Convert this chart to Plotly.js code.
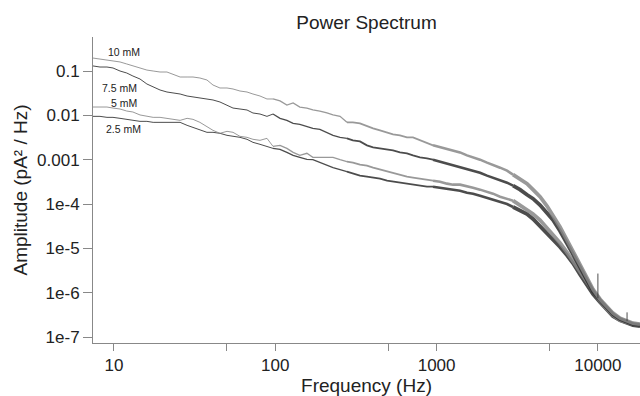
<!DOCTYPE html>
<html>
<head>
<meta charset="utf-8">
<script src="https://cdn.plot.ly/plotly-3.0.1.min.js"></script>
<style>html,body{margin:0;padding:0;background:#fff;}#chart{width:640px;height:396px;}</style>
</head>
<body>
<div id="chart"></div>
<script>
// Frequency grid (Hz)
const freq = [7.41, 8.19, 9.05, 9.86, 10.9, 12.0, 13.1, 14.5, 16.0, 17.5, 19.3, 21.3, 23.2, 25.7, 28.4, 30.9, 34.1, 37.7, 41.1, 45.4,
  50.2, 54.7, 60.4, 66.8, 72.7, 80.4, 88.8, 96.8, 107, 118, 129, 142, 157, 171, 189, 209, 228, 252, 278, 303,
  335, 370, 404, 446, 493, 537, 593, 655, 714, 789, 872, 950, 1050, 1160, 1264, 1397, 1544, 1682, 1859, 2054,
  2238, 2474, 2733, 2978, 3290, 3636, 3961, 4378, 4837, 5270, 5825, 6437, 7013, 7750, 8565, 9328, 10310, 11390, 12410, 13720,
  15160, 16510, 18250];

// Amplitudes (pA^2/Hz) for each concentration
const amp10 = [0.196, 0.187, 0.177, 0.168, 0.160, 0.144, 0.130, 0.117, 0.105, 0.100, 0.0949, 0.0949, 0.0856, 0.0732, 0.0732, 0.0732, 0.0695, 0.0627, 0.0483, 0.0414,
  0.0414, 0.0393, 0.0354, 0.0336, 0.0303, 0.0273, 0.0234, 0.0234, 0.0211, 0.0171, 0.0190, 0.0154, 0.0146, 0.0132, 0.0125, 0.0113, 0.0102, 0.00949, 0.00695, 0.00695,
  0.00660, 0.00565, 0.00509, 0.00459, 0.00414, 0.00373, 0.00354, 0.00319, 0.00319, 0.00273, 0.00234, 0.00211, 0.00190, 0.00171, 0.00162, 0.00146, 0.00125, 0.00113, 0.00100, 0.000856,
  0.000771, 0.000660, 0.000565, 0.000459, 0.000373, 0.000288, 0.000211, 0.000146, 0.0000901, 0.0000565, 0.0000303, 0.0000154, 0.00000856, 0.00000436, 0.00000211, 0.00000119, 7.13e-7, 4.71e-7, 3.45e-7, 2.66e-7,
  2.28e-7, 2.05e-7, 1.95e-7];
const amp75 = [0.130, 0.123, 0.123, 0.117, 0.100, 0.0901, 0.0771, 0.0660, 0.0509, 0.0436, 0.0373, 0.0336, 0.0319, 0.0303, 0.0273, 0.0259, 0.0246, 0.0234, 0.0222, 0.0200,
  0.0171, 0.0146, 0.0139, 0.0132, 0.0113, 0.0107, 0.00949, 0.0107, 0.00856, 0.00771, 0.00660, 0.00627, 0.00565, 0.00509, 0.00483, 0.00414, 0.00354, 0.00319, 0.00303, 0.00273,
  0.00259, 0.00211, 0.00190, 0.00180, 0.00171, 0.00162, 0.00146, 0.00139, 0.00125, 0.00113, 0.00107, 0.00100, 0.000901, 0.000812, 0.000771, 0.000695, 0.000627, 0.000565, 0.000509, 0.000436,
  0.000393, 0.000354, 0.000303, 0.000259, 0.000211, 0.000162, 0.000132, 0.0000949, 0.0000627, 0.0000436, 0.0000246, 0.0000132, 0.00000732, 0.00000373, 0.00000190, 0.00000107, 6.77e-7, 4.47e-7, 3.27e-7, 2.53e-7,
  2.16e-7, 1.95e-7, 1.85e-7];
const amp5 = [0.0154, 0.0154, 0.0154, 0.0146, 0.0139, 0.0125, 0.0119, 0.0102, 0.00949, 0.00901, 0.00901, 0.00856, 0.00812, 0.00771, 0.00856, 0.00812, 0.00695, 0.00565, 0.00459, 0.00393,
  0.00436, 0.00414, 0.00336, 0.00319, 0.00288, 0.00273, 0.00303, 0.00200, 0.00211, 0.00180, 0.00146, 0.00125, 0.00139, 0.00113, 0.00113, 0.00113, 0.00113, 0.00100, 0.000901, 0.000856,
  0.000771, 0.000732, 0.000660, 0.000595, 0.000536, 0.000509, 0.000459, 0.000414, 0.000393, 0.000373, 0.000354, 0.000336, 0.000319, 0.000288, 0.000273, 0.000273, 0.000246, 0.000234, 0.000211, 0.000190,
  0.000171, 0.000146, 0.000132, 0.000119, 0.0000949, 0.0000732, 0.0000595, 0.0000436, 0.0000288, 0.0000190, 0.0000132, 0.00000812, 0.00000509, 0.00000303, 0.00000171, 0.00000102, 6.43e-7, 4.25e-7, 3.11e-7, 2.40e-7,
  2.16e-7, 1.95e-7, 1.85e-7];
const amp25 = [0.00949, 0.00949, 0.00901, 0.00901, 0.00856, 0.00812, 0.00771, 0.00732, 0.00732, 0.00695, 0.00695, 0.00695, 0.00695, 0.00695, 0.00595, 0.00536, 0.00483, 0.00414, 0.00414, 0.00393,
  0.00354, 0.00336, 0.00319, 0.00288, 0.00246, 0.00222, 0.00200, 0.00180, 0.00171, 0.00146, 0.00125, 0.00113, 0.00102, 0.00100, 0.000856, 0.000732, 0.000660, 0.000595, 0.000536, 0.000483,
  0.000436, 0.000414, 0.000393, 0.000373, 0.000336, 0.000319, 0.000303, 0.000288, 0.000273, 0.000259, 0.000246, 0.000246, 0.000234, 0.000222, 0.000211, 0.000200, 0.000180, 0.000171, 0.000154, 0.000139,
  0.000125, 0.000113, 0.000100, 0.0000856, 0.0000732, 0.0000595, 0.0000459, 0.0000319, 0.0000222, 0.0000154, 0.0000107, 0.00000695, 0.00000459, 0.00000259, 0.00000146, 9.25e-7, 6.10e-7, 4.03e-7, 2.95e-7, 2.40e-7,
  2.05e-7, 1.85e-7, 1.76e-7];

// Narrow spikes in the tail
const spikeFreq = [10000, 10000, null, 15160, 15160];
const spikeAmp = [7.5e-7, 2.7e-6, null, 2.3e-7, 3.6e-7];

// Curve labels and ticks
const labels = ['10 mM', '7.5 mM', '5 mM', '2.5 mM'];
const tickX = [10, 50, 100, 500, 1000, 5000, 10000];
const tickXText = ['10', '', '100', '', '1000', '', '10000'];
const tickY = [1e-7, 1e-6, 1e-5, 1e-4, 1e-3, 1e-2, 1e-1];
const tickYText = ['1e-7', '1e-6', '1e-5', '1e-4', '0.001', '0.01', '0.1'];

const series = [
  {y: amp25, color: 'rgba(45,45,45,0.85)'},
  {y: amp5, color: 'rgba(135,135,135,0.85)'},
  {y: amp75, color: 'rgba(45,45,45,0.85)'},
  {y: amp10, color: 'rgba(135,135,135,0.85)'}
];
// progressively thicker strokes where the recorded spectrum is denser/noisier
const bands = [[0, 100, 1], [100, 300, 1.3], [300, 1000, 1.8], [1000, 3000, 2.6], [3000, 1e9, 3.8]];

function segment(xs, ys, lo, hi) {
  const ox = [], oy = [];
  for (let i = 0; i < xs.length; i++) {
    const inside = xs[i] >= lo && xs[i] <= hi;
    const prev = i + 1 < xs.length && xs[i] < lo && xs[i + 1] >= lo;
    if (inside || prev) { ox.push(xs[i]); oy.push(ys[i]); }
  }
  return {x: ox, y: oy};
}

const traces = [];
series.forEach(s => {
  bands.forEach(b => {
    const seg = segment(freq, s.y, b[0], b[1]);
    traces.push({x: seg.x, y: seg.y, type: 'scatter', mode: 'lines',
      line: {color: s.color, width: b[2], shape: 'linear'}, hoverinfo: 'skip'});
  });
});
traces.push({x: spikeFreq, y: spikeAmp, type: 'scatter', mode: 'lines',
  line: {color: 'rgba(60,60,60,0.9)', width: 1}, connectgaps: false, hoverinfo: 'skip'});

const font = 'Liberation Sans, Arial, sans-serif';
const labelPos = [[1.062, -0.582], [1.037, -1.372], [1.062, -1.722], [1.056, -2.298]];
const annotations = labels.map((t, i) => ({
  text: t, x: labelPos[i][0], y: labelPos[i][1], xref: 'x', yref: 'y',
  showarrow: false, font: {family: font, size: 10.5, color: '#222'}
}));

const layout = {
  width: 640, height: 396,
  margin: {l: 93, r: 0, t: 37, b: 53},
  paper_bgcolor: '#fff', plot_bgcolor: '#fff',
  showlegend: false,
  font: {family: font, color: '#222'},
  title: {text: 'Power Spectrum', font: {family: font, size: 19, color: '#222'},
    x: 0.5, xref: 'paper', y: 1 - 22 / 396, yref: 'container', yanchor: 'middle'},
  xaxis: {type: 'log', range: [0.87, 4.261], tickvals: tickX, ticktext: tickXText,
    ticks: 'outside', ticklen: 7, tickwidth: 1, tickcolor: '#888',
    showline: true, linecolor: '#888', linewidth: 1, showgrid: false, zeroline: false,
    tickfont: {family: font, size: 17, color: '#222'},
    title: {text: 'Frequency (Hz)', font: {family: font, size: 19, color: '#222'}, standoff: 2}},
  yaxis: {type: 'log', range: [-7.135, -0.233], tickvals: tickY, ticktext: tickYText,
    ticks: 'outside', ticklen: 9, tickwidth: 1, tickcolor: '#888',
    showline: true, linecolor: '#888', linewidth: 1, showgrid: false, zeroline: false,
    tickfont: {family: font, size: 17, color: '#222'},
    title: {text: 'Amplitude (pA² / Hz)', font: {family: font, size: 19, color: '#222'}, standoff: 4}},
  annotations: annotations
};

Plotly.newPlot('chart', traces, layout, {staticPlot: true, displayModeBar: false});
</script>
</body>
</html>
